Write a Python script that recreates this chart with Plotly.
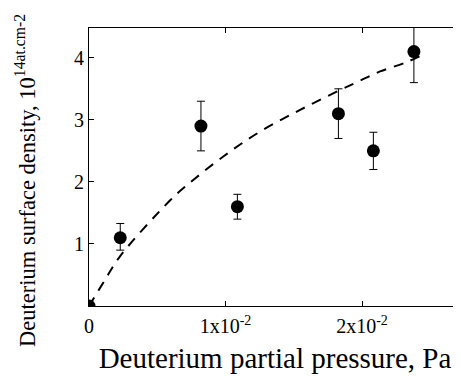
import plotly.graph_objects as go

pressure = [0.0, 0.00229, 0.0082, 0.01087, 0.01827, 0.02083, 0.0238]
density = [0.0, 1.1, 2.9, 1.6, 3.1, 2.5, 4.1]
err_plus = [0.0, 0.23, 0.4, 0.2, 0.4, 0.3, 0.6]
err_minus = [0.0, 0.2, 0.4, 0.2, 0.4, 0.3, 0.5]

# Dashed fit curve points
fit_x = [0.0, 0.00117, 0.00227, 0.00593, 0.00703, 0.00984, 0.01253, 0.01546, 0.01839, 0.01985, 0.02132, 0.02315, 0.02447]
fit_y = [0.0, 0.42, 0.80, 1.70, 1.92, 2.41, 2.81, 3.16, 3.48, 3.63, 3.78, 3.92, 4.05]

x_tickvals = [0, 0.01, 0.02]
x_ticktext = ["0", "1x10<sup>-2</sup>", "2x10<sup>-2</sup>"]
y_tickvals = [1, 2, 3, 4]
y_ticktext = ["1", "2", "3", "4"]

x_title = "Deuterium partial pressure, Pa"
y_title = "Deuterium surface density, 10<sup>14</sup><sup>at.cm</sup><sup>-2</sup>"

FONT = "Liberation Serif, Times New Roman, serif"
X_RANGE = [0, 0.02725]
Y_RANGE = [0, 4.48]

fig = go.Figure()

fig.add_trace(go.Scatter(
    x=fit_x, y=fit_y, mode="lines",
    line=dict(color="black", width=2, dash="10px,8px", shape="spline"),
    hoverinfo="skip", showlegend=False, cliponaxis=True,
))

fig.add_trace(go.Scatter(
    x=pressure[1:], y=density[1:], mode="markers",
    marker=dict(color="black", size=13, symbol="circle"),
    error_y=dict(type="data", symmetric=False, array=err_plus[1:], arrayminus=err_minus[1:],
                 color="black", thickness=1, width=4),
    showlegend=False, cliponaxis=True,
))

fig.add_trace(go.Scatter(
    x=pressure[:1], y=density[:1], mode="markers",
    marker=dict(color="black", size=13, symbol="circle"),
    showlegend=False, cliponaxis=True,
))

# empty trace so the right-hand tick axis is drawn
fig.add_trace(go.Scatter(x=[], y=[], yaxis="y2", showlegend=False, hoverinfo="skip"))

fig.update_layout(
    width=453, height=368,
    margin=dict(l=81, r=0, t=20, b=70, autoexpand=False),
    paper_bgcolor="white", plot_bgcolor="white",
    font=dict(family=FONT, color="black", size=20),
    yaxis2=dict(
        overlaying="y", side="right", range=Y_RANGE, showgrid=False, zeroline=False,
        showline=False, ticks="inside", ticklen=5, tickwidth=1, tickcolor="black",
        tickvals=y_tickvals, showticklabels=False, automargin=False,
    ),
)

fig.update_xaxes(
    range=X_RANGE, showgrid=False, zeroline=False, automargin=False,
    showline=True, linecolor="black", linewidth=1, mirror="ticks",
    ticks="inside", ticklen=5, tickwidth=1, tickcolor="black",
    tickvals=x_tickvals, ticktext=x_ticktext, ticklabelstandoff=2,
    tickfont=dict(family=FONT, size=20, color="black"),
    title=dict(text=x_title, font=dict(family=FONT, size=29, color="black"), standoff=11),
)

fig.layout.yaxis.update(
    range=Y_RANGE, showgrid=False, zeroline=False, automargin=False,
    showline=True, linecolor="black", linewidth=1, mirror=False,
    ticks="inside", ticklen=5, tickwidth=1, tickcolor="black",
    tickvals=y_tickvals, ticktext=y_ticktext,
    tickfont=dict(family=FONT, size=20, color="black"),
)

fig.add_annotation(
    text=y_title, textangle=-90, showarrow=False,
    xref="paper", yref="paper", x=0, y=0.45, xanchor="center", yanchor="middle",
    xshift=-64, font=dict(family=FONT, size=22.5, color="black"),
)

fig.write_html("out.html")
